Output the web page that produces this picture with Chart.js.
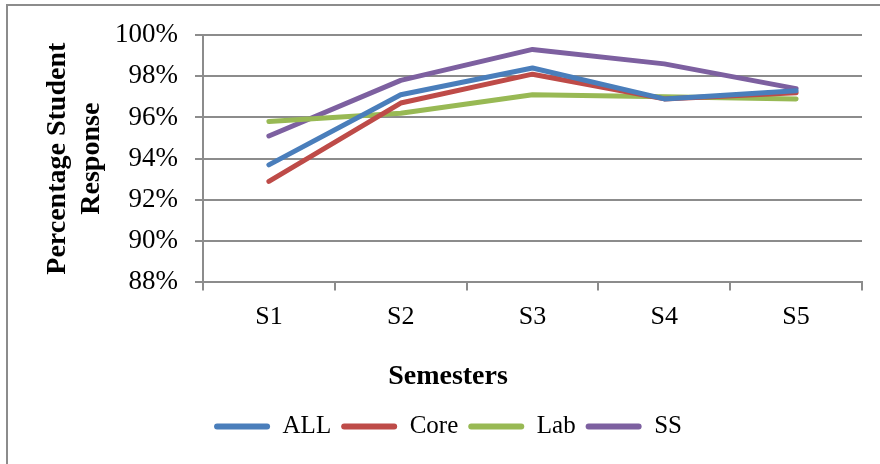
<!DOCTYPE html>
<html>
<head>
<meta charset="utf-8">
<script src="https://cdn.jsdelivr.net/npm/chart.js@4/dist/chart.umd.min.js"></script>
<style>
  html, body { margin: 0; padding: 0; background: #ffffff; overflow: hidden; }
  #wrap { position: relative; width: 880px; height: 464px; }
  #frame { position: absolute; left: 6px; top: 4px; width: 900px; height: 500px;
           border: 2px solid #8c8c8c; box-sizing: border-box; }
  canvas { position: absolute; left: 0; top: 0; }
</style>
</head>
<body>
<div id="wrap">
  <div id="frame"></div>
  <canvas id="chart" width="880" height="464"></canvas>
</div>
<script>
// Semesters on the x axis
const semesters = ['S1', 'S2', 'S3', 'S4', 'S5'];

// Percentage of students responding, per group
const allValues  = [93.7, 97.1, 98.4, 96.9, 97.3];
const coreValues = [92.9, 96.7, 98.1, 96.9, 97.2];
const labValues  = [95.8, 96.2, 97.1, 97.0, 96.9];
const ssValues   = [95.1, 97.8, 99.3, 98.6, 97.4];

const seriesNames = ['ALL', 'Core', 'Lab', 'SS'];
const seriesColors = ['#4a7ebb', '#be4b48', '#98b954', '#7d60a0'];

// y axis range and spacing (percent)
const yMin = 88;
const yMax = 100;
const yStep = 2;

const serif = "'Liberation Serif', 'Times New Roman', serif";
const gridGray = '#8c8c8c';

const seriesValues = [allValues, coreValues, labValues, ssValues];

new Chart(document.getElementById('chart'), {
  type: 'line',
  data: {
    labels: semesters,
    datasets: seriesNames.map((name, i) => ({
      label: name,
      data: seriesValues[i],
      borderColor: seriesColors[i],
      backgroundColor: seriesColors[i],
      borderWidth: 5,
      borderCapStyle: 'round',
      borderJoinStyle: 'round',
      pointRadius: 0,
      pointHoverRadius: 0,
      tension: 0,
      fill: false
    }))
  },
  options: {
    responsive: false,
    animation: false,
    devicePixelRatio: 1,
    layout: { padding: { left: 34, right: 18, top: 35, bottom: 15 } },
    scales: {
      x: {
        offset: true,
        grid: {
          offset: true,
          drawOnChartArea: false,
          drawTicks: true,
          tickLength: 8,
          color: gridGray,
          lineWidth: 2
        },
        border: { display: true, color: gridGray, width: 2 },
        ticks: {
          color: '#000',
          padding: 11,
          font: { family: serif, size: 26 }
        },
        afterFit(scale) { scale.height = 58; }
      },
      y: {
        min: yMin,
        max: yMax,
        grid: {
          color: gridGray,
          lineWidth: 2,
          drawTicks: true,
          tickLength: 8
        },
        border: { display: true, color: gridGray, width: 2 },
        ticks: {
          stepSize: yStep,
          color: '#000',
          padding: 17,
          font: { family: serif, size: 27 },
          callback: (v) => v + '%'
        },
        title: {
          display: true,
          text: ['Percentage Student', 'Response'],
          color: '#000',
          font: { family: serif, size: 28, weight: 'bold', lineHeight: 1.2 },
          padding: { top: 7, bottom: 0 }
        },
        afterFit(scale) { scale.width = 169; }
      }
    },
    plugins: {
      title: {
        display: true,
        position: 'bottom',
        weight: 500,
        text: 'Semesters',
        color: '#000',
        font: { family: serif, size: 28, weight: 'bold', lineHeight: 1.2 },
        padding: { top: 20, bottom: 10 }
      },
      legend: {
        position: 'bottom',
        labels: {
          color: '#000',
          boxWidth: 56,
          boxHeight: 6,
          padding: 10,
          useBorderRadius: true,
          borderRadius: 3,
          font: { family: serif, size: 25 },
          generateLabels(chart) {
            const items = Chart.defaults.plugins.legend.labels.generateLabels(chart);
            items.forEach((item) => { item.lineWidth = 0; });
            return items;
          }
        }
      },
      tooltip: { enabled: false }
    }
  }
});
</script>
</body>
</html>
